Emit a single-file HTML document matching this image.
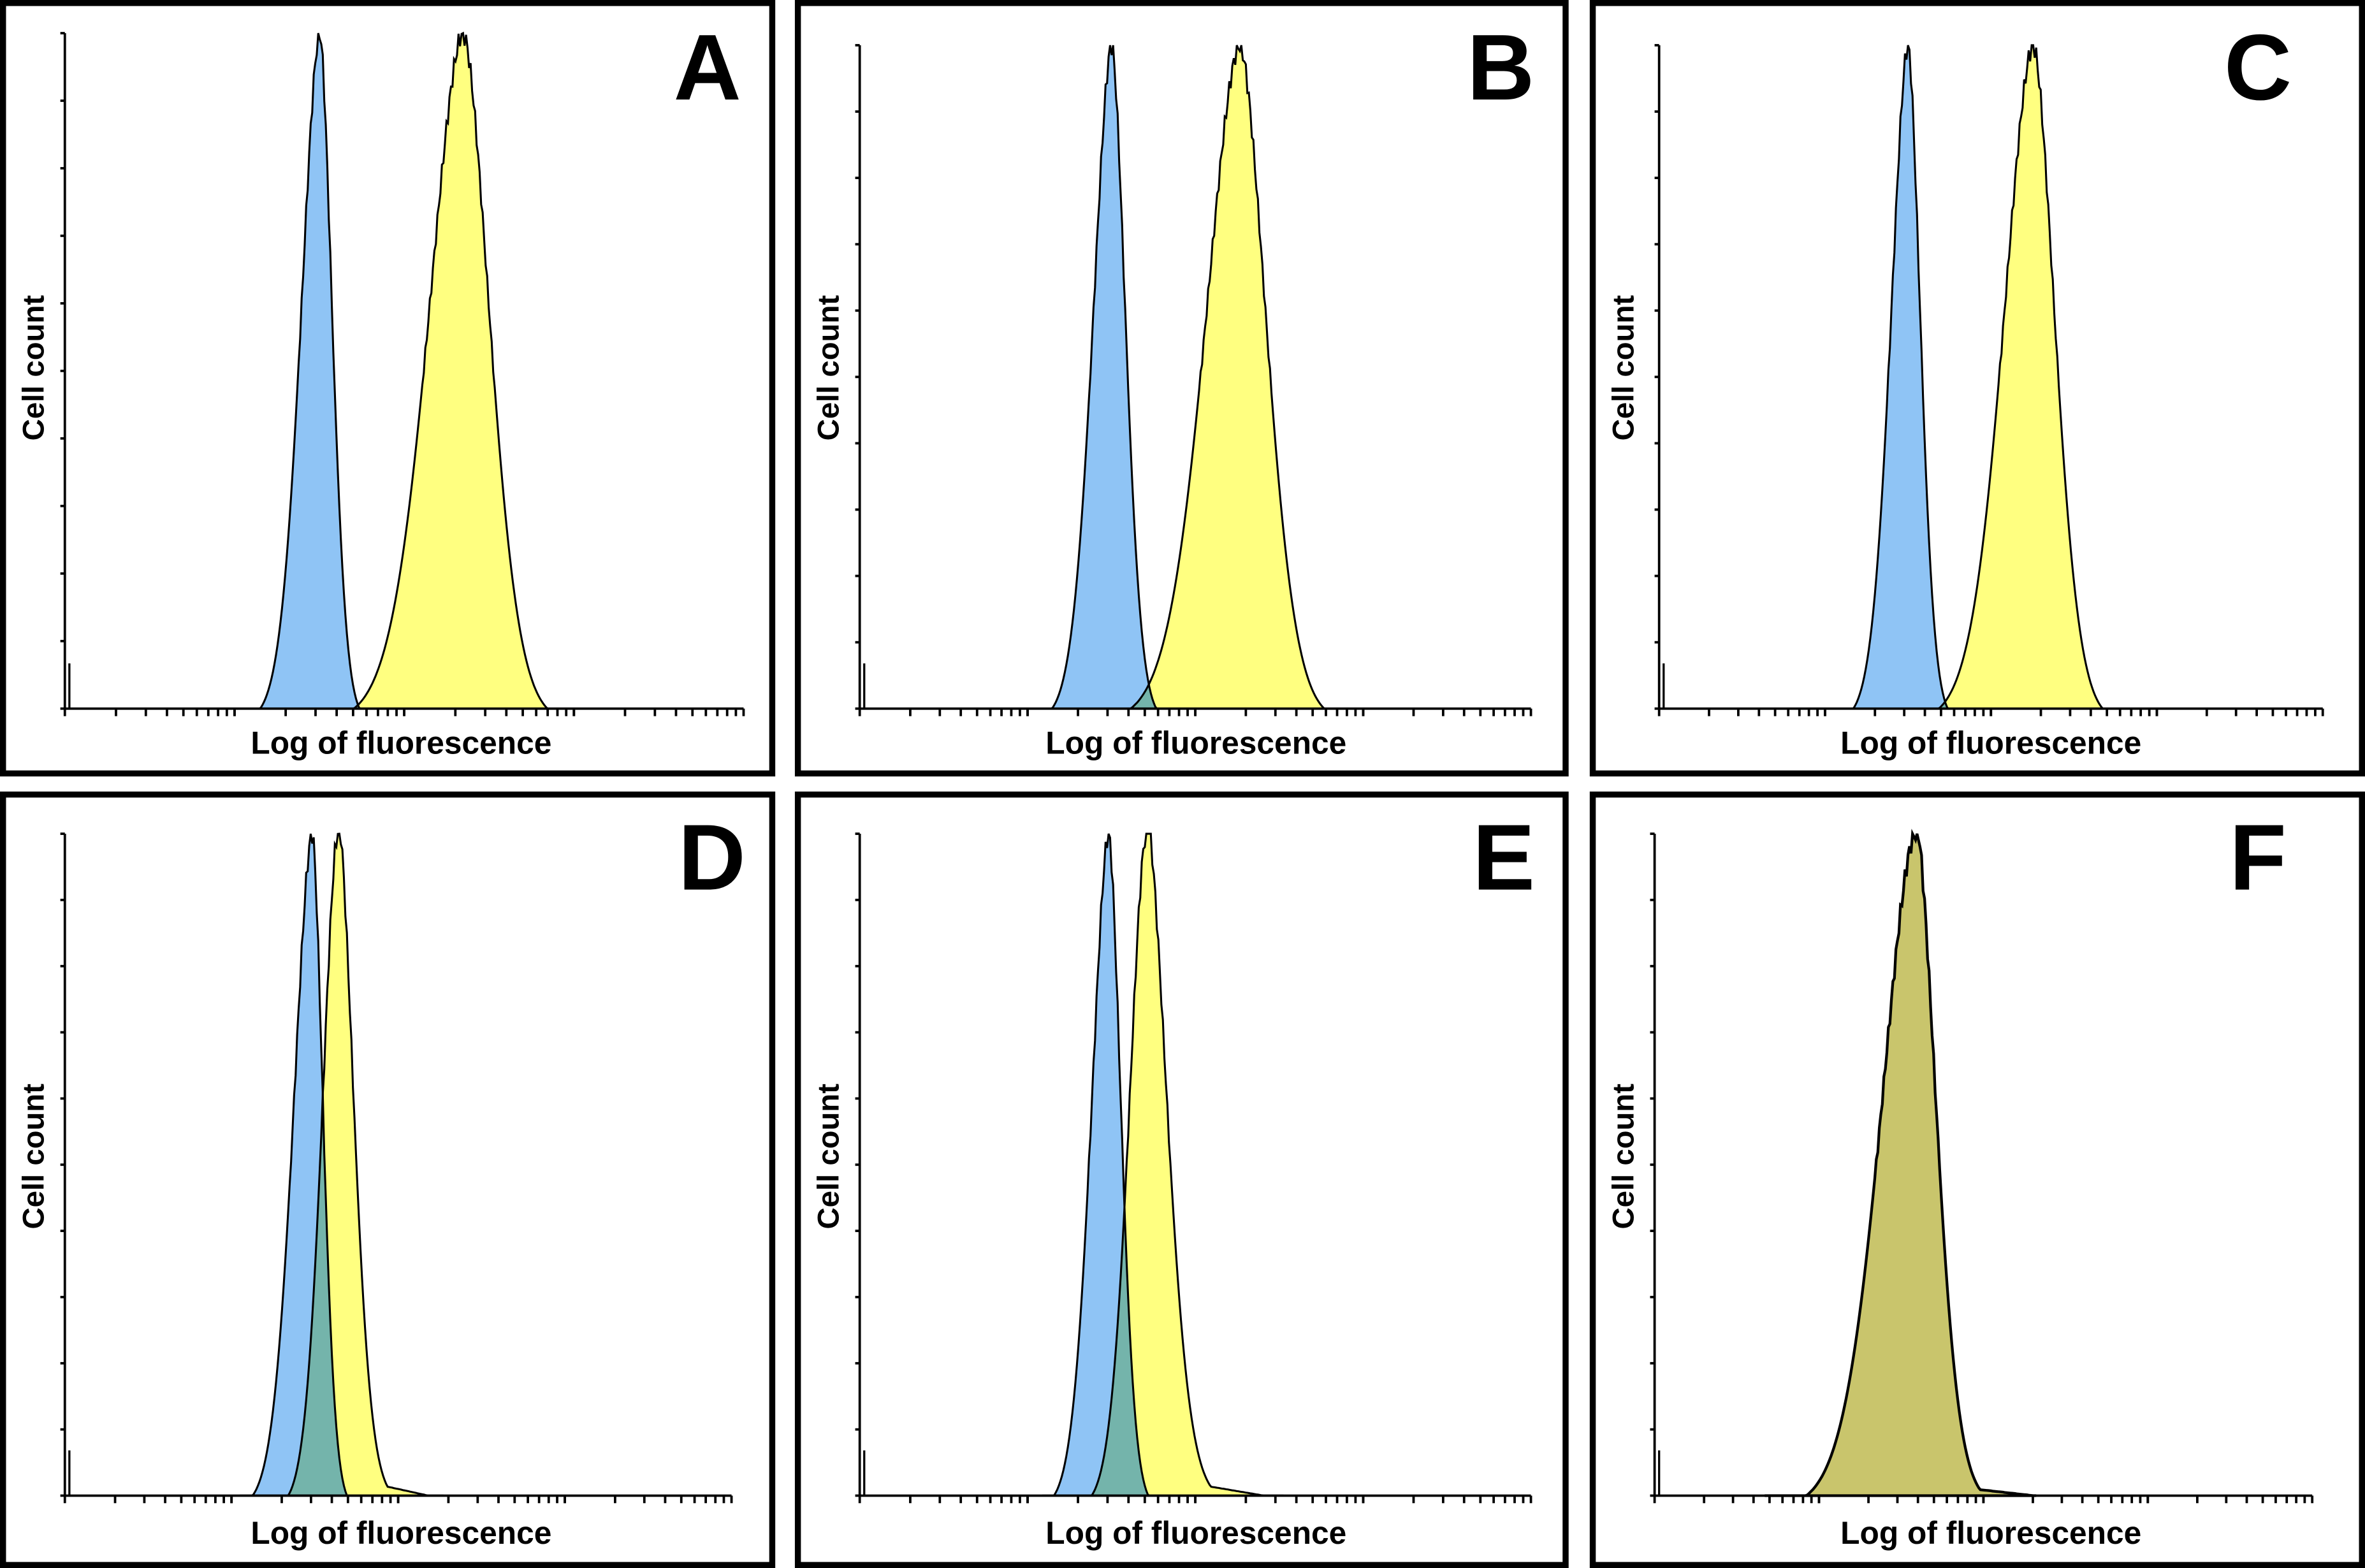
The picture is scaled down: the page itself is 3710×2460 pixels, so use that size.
<!DOCTYPE html>
<html><head><meta charset="utf-8"><style>
html,body{margin:0;padding:0;background:#fff}
svg{display:block}
text{font-family:"Liberation Sans",Arial,sans-serif;font-weight:bold;fill:#000}
</style></head><body>
<svg id="s" width="3710" height="2460" viewBox="0 0 1568 1040" preserveAspectRatio="none" xmlns="http://www.w3.org/2000/svg">
<rect x="0" y="0" width="1568" height="1040" fill="#fff"/>
<g id="g"></g>
<g stroke="#000" stroke-width="4" fill="none">
<rect x="2" y="2" width="510" height="511"/>
<rect x="529" y="2" width="509" height="511"/>
<rect x="1056" y="2" width="510" height="511"/>
<rect x="2" y="527" width="510" height="511"/>
<rect x="529" y="527" width="509" height="511"/>
<rect x="1056" y="527" width="510" height="511"/>
</g>
<g font-size="21" text-anchor="middle">
<text x="266" y="500">Log of fluorescence</text>
<text x="793" y="500">Log of fluorescence</text>
<text x="1320" y="500">Log of fluorescence</text>
<text x="266" y="1024">Log of fluorescence</text>
<text x="793" y="1024">Log of fluorescence</text>
<text x="1320" y="1024">Log of fluorescence</text>
</g>
<g font-size="20" text-anchor="middle">
<text transform="translate(29,244) rotate(-90)">Cell count</text>
<text transform="translate(556,244) rotate(-90)">Cell count</text>
<text transform="translate(1083,244) rotate(-90)">Cell count</text>
<text transform="translate(29,767) rotate(-90)">Cell count</text>
<text transform="translate(556,767) rotate(-90)">Cell count</text>
<text transform="translate(1083,767) rotate(-90)">Cell count</text>
</g>
<g font-size="62" text-anchor="middle">
<text x="469" y="66">A</text>
<text x="995" y="66">B</text>
<text x="1497" y="66">C</text>
<text x="472" y="590">D</text>
<text x="997" y="590">E</text>
<text x="1497" y="590">F</text>
</g>
</svg>
<script>
var g=document.getElementById('g'),out='';
function val(x,p){
  var s=x<p.px?p.sl:p.sr,u=Math.abs(x-p.px)/s;
  var v=Math.exp(-Math.pow(u,1.75)/2);
  v=Math.max(0,(v-0.018)/0.982);
  if(p.tail&&x>p.px)v+=p.tail*Math.max(0,1-(x-p.px)/(p.sr*6));
  if(u<1.2)v*=1+Math.sin(x*2.3)*0.015;
  return Math.min(v,1);
}
function path(p,y0,y1,x1,x2,f){
  var h=y0-y1,d='M'+x1+','+y0;
  for(var x=x1;x<=x2;x+=1){var v=f(x);d+=' L'+x+','+(y0-h*Math.max(0,v)).toFixed(1);}
  return d+' L'+x2+','+y0+' Z';
}
function axes(ax,top,bot,xend){
  var s='<g stroke="#000" stroke-width="1.6" fill="none">';
  s+='<line x1="'+ax+'" y1="'+top+'" x2="'+ax+'" y2="'+bot+'"/>';
  s+='<line x1="'+ax+'" y1="'+bot+'" x2="'+xend+'" y2="'+bot+'"/>';
  for(var i=0;i<=10;i++){var y=top+(bot-top)*i/10;s+='<line x1="'+(ax-3)+'" y1="'+y+'" x2="'+ax+'" y2="'+y+'"/>';}
  var dec=(xend-ax)/4;
  for(var k=0;k<4;k++)for(var j=1;j<=10;j++){var x=ax+dec*(k+Math.log10(j));s+='<line x1="'+x.toFixed(1)+'" y1="'+bot+'" x2="'+x.toFixed(1)+'" y2="'+(bot+5)+'"/>';}
  s+='<line x1="'+(ax+3)+'" y1="'+(bot-30)+'" x2="'+(ax+3)+'" y2="'+bot+'" stroke-width="1.4"/>';
  return s+'</g>';
}
var B='#8fc4f5',Y='#ffff80',st='stroke="#000" stroke-width="1.3"';
function two(ax,top,bot,xend,bp,bl,br,yp,yl,yr,ytail){
  var b={px:bp,sl:bl,sr:br,tail:0},y={px:yp,sl:yl,sr:yr,tail:ytail};
  var x1=Math.round(bp-bl*4),x2=Math.round(yp+yr*7);
  out+='<path d="'+path(y,bot,top,x1,x2,function(x){return val(x,y)})+'" fill="'+Y+'" stroke="none"/>';
  out+='<path d="'+path(b,bot,top,x1,x2,function(x){return val(x,b)})+'" fill="'+B+'" stroke="none"/>';
  out+='<path d="'+path(b,bot,top,x1,x2,function(x){return Math.min(val(x,b),val(x,y))})+'" fill="#74b4ab" stroke="none"/>';
  out+='<path d="'+path(y,bot,top,x1,x2,function(x){return val(x,y)})+'" fill="none" '+st+'/>';
  out+='<path d="'+path(b,bot,top,x1,x2,function(x){return val(x,b)})+'" fill="none" '+st+'/>';
  out+=axes(ax,top,bot,xend);
}
two(43,22,470,493,212,12,8,307,22,17,0);
two(570,30,470,1015,737,12,9,822,22,17,0);
two(1100,30,470,1540,1265,11,8,1348,19,14,0);
two(43,553,992,485,207,12,7,224,10,10,0.03);
two(570,553,992,1015,735,11,8,760,11,13,0.03);
var f={px:1270,sl:22,sr:13,tail:0.02};
out+='<path d="'+path(f,992,553,1170,1350,function(x){return val(x,f)})+'" fill="#c9c56c" stroke="#000" stroke-width="1.8"/>';
out+=axes(1097,553,992,1533);
g.innerHTML=out;
</script>
</body></html>
